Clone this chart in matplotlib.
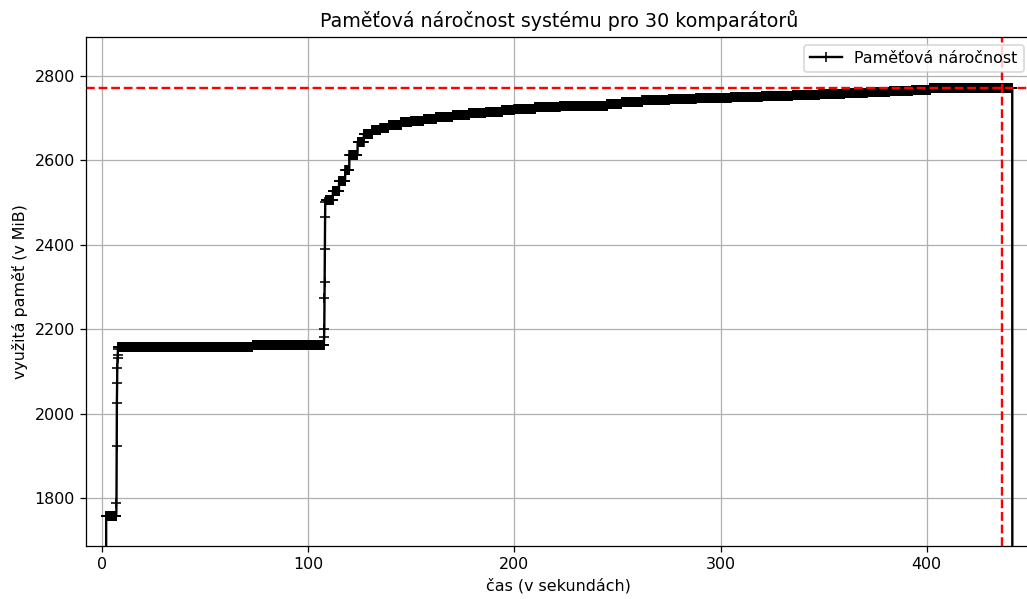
import numpy as np
import matplotlib
matplotlib.use("Agg")
import matplotlib.pyplot as plt

sample_interval = 0.1  # s, mprof sampling period

# memory readings held constant from run_start until the next run (s, MiB)
run_start = [0.0, 2.0, 7.0, 7.1, 7.2, 7.3, 7.4, 7.5, 7.6, 7.7, 7.8, 73.0,
             107.7, 107.8, 107.9, 108.0, 108.1, 108.2, 108.3, 108.4,
             112.0, 115.0, 118.0, 120.0, 124.0, 127.0, 131.0, 135.0,
             139.0, 145.0, 150.0, 156.0, 162.0, 170.0, 178.0, 186.0,
             194.0, 200.0, 210.0, 222.0, 236.0, 245.0, 252.0, 262.0,
             275.0, 288.0, 305.0, 320.0, 335.0, 348.0, 360.0, 371.0,
             382.0, 393.0, 401.6, 436.3, 436.4, 441.6]
run_mem = [160, 1759, 1788, 1924, 2026, 2074, 2109, 2131, 2139, 2153, 2159, 2163,
           2183, 2200, 2274, 2313, 2390, 2467, 2502, 2506,
           2528, 2552, 2578, 2614, 2643, 2662, 2672, 2678,
           2685, 2690, 2694, 2699, 2703, 2708, 2712, 2715,
           2719, 2723, 2726, 2728, 2730, 2734, 2738, 2742,
           2745, 2748, 2751, 2753, 2755, 2757, 2759, 2761,
           2764, 2766, 2771, 2772, 2771, 150]

# expand the runs to the sampled series
ticks = np.arange(int(round(run_start[-1] / sample_interval)) + 1)
starts = np.rint(np.array(run_start) / sample_interval).astype(int)
idx = np.searchsorted(starts, ticks, side="right") - 1
times = ticks * sample_interval
mem = np.array(run_mem, dtype=float)[idx]

max_i = np.argmax(mem)

dpi = 114
fig = plt.figure(figsize=(1027 / dpi, 599 / dpi), dpi=dpi)
# right edge of the axes sits just past the image border, as in the original
ax = fig.add_axes([0.0837, 0.0885, 0.921, 0.8502])

ax.plot(times, mem, "+-", color="k", label="Paměťová náročnost")
ax.axhline(mem[max_i], color="r", linestyle="--", linewidth=1.5)
ax.axvline(times[max_i], color="r", linestyle="--", linewidth=1.5)

ax.set_xlim(-7.8, 451.0)
ax.set_ylim(1687, 2893)
ax.set_xticks([0, 100, 200, 300, 400])
ax.set_yticks([1800, 2000, 2200, 2400, 2600, 2800])
ax.grid(True)
ax.set_xlabel("čas (v sekundách)")
ax.set_ylabel("využitá paměť (v MiB)")
ax.set_title("Paměťová náročnost systému pro 30 komparátorů")
ax.legend(loc="upper right")

fig.savefig("out.png", dpi=dpi)
